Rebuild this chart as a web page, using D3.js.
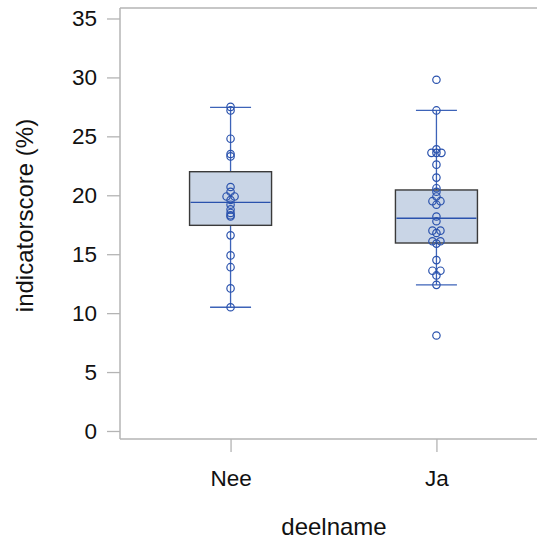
<!DOCTYPE html>
<html>
<head>
<meta charset="utf-8">
<script src="https://cdn.jsdelivr.net/npm/d3@7"></script>
<style>
  html, body { margin: 0; padding: 0; background: #fff; }
  svg { display: block; font-family: "Liberation Sans", Arial, sans-serif; }
</style>
</head>
<body>
<svg id="chart" width="537" height="539"></svg>
<script>
// ---- data ----
const categories = ["Nee", "Ja"];
const neeValues = [27.5, 27.2, 24.8, 23.5, 23.3, 20.7, 20.3, 19.9, 19.9, 19.6, 19.2, 18.8, 18.5, 18.3, 18.2, 16.6, 14.9, 13.9, 12.1, 10.5];
const jaValues = [29.8, 27.2, 23.9, 23.6, 23.6, 23.6, 22.6, 21.5, 20.6, 20.3, 19.9, 19.5, 19.5, 19.2, 18.2, 17.8, 17.0, 17.0, 16.8, 16.1, 16.1, 15.9, 14.5, 13.6, 13.6, 13.2, 12.4, 8.1];
// box statistics: [whiskerLow, q1, median, q3, whiskerHigh]
const neeBox = [10.5, 17.45, 19.4, 22.0, 27.45];
const jaBox = [12.4, 15.95, 18.05, 20.45, 27.2];
const yTicks = [0, 5, 10, 15, 20, 25, 30, 35];
const xTitle = "deelname";
const yTitle = "indicatorscore (%)";

const series = [
  { cat: categories[0], values: neeValues, box: neeBox },
  { cat: categories[1], values: jaValues, box: jaBox }
];

// ---- layout ----
const svg = d3.select("#chart");
const mLeft = 120, mRight = 547, mTop = 8, mBottom = 439;
const tickFont = 22.5, titleFont = 24;

const x = d3.scalePoint().domain(categories).range([mLeft, mRight]).padding(0.537);
const y = d3.scaleLinear().domain([-0.68, 35.89]).range([mBottom, mTop]);

const axisColor = "#b4b4b4";
const blue = "#2a52ad";
const whiskerBlue = "#3d63b8";

// frame lines
svg.append("line").attr("x1", mLeft).attr("x2", 537).attr("y1", mTop).attr("y2", mTop)
  .attr("stroke", axisColor).attr("stroke-width", 1.5);
svg.append("line").attr("x1", mLeft).attr("x2", 537).attr("y1", mBottom).attr("y2", mBottom)
  .attr("stroke", axisColor).attr("stroke-width", 1.5);

function styleText(sel, size) {
  sel.attr("fill", "#111").attr("font-size", size)
    .attr("font-family", "'Liberation Sans', Arial, sans-serif");
}

// y axis
const yAxis = d3.axisLeft(y).tickValues(yTicks).tickSize(13).tickPadding(10);
const gy = svg.append("g").attr("transform", `translate(${mLeft},0)`).call(yAxis);
gy.select(".domain").attr("stroke", axisColor).attr("stroke-width", 1.5)
  .attr("d", `M0,${mTop}V${mBottom}`);
gy.selectAll(".tick line").attr("stroke", axisColor).attr("stroke-width", 1.3);
styleText(gy.selectAll(".tick text"), tickFont);

// x axis
const xAxis = d3.axisBottom(x).tickSize(13).tickPadding(19);
const gx = svg.append("g").attr("transform", `translate(0,${mBottom})`).call(xAxis);
gx.select(".domain").remove();
gx.selectAll(".tick line").attr("stroke", axisColor).attr("stroke-width", 1.3);
styleText(gx.selectAll(".tick text"), tickFont);
gx.selectAll(".tick text").attr("dy", "0.66em");

// titles
styleText(svg.append("text").attr("x", 334).attr("y", 535).attr("text-anchor", "middle").text(xTitle), titleFont);
styleText(svg.append("text").attr("transform", `translate(33,${(mTop + mBottom) / 2 - 8}) rotate(-90)`)
  .attr("text-anchor", "middle").text(yTitle), titleFont);

// boxes
const boxW = 82, capW = 41;
series.forEach(s => {
  const cx = x(s.cat);
  const [lo, q1, med, q3, hi] = s.box;
  const g = svg.append("g");
  g.append("line").attr("x1", cx).attr("x2", cx).attr("y1", y(hi)).attr("y2", y(lo))
    .attr("stroke", whiskerBlue).attr("stroke-width", 1.3);
  [lo, hi].forEach(v => {
    g.append("line").attr("x1", cx - capW / 2).attr("x2", cx + capW / 2)
      .attr("y1", y(v)).attr("y2", y(v)).attr("stroke", whiskerBlue).attr("stroke-width", 1.3);
  });
  g.append("rect").attr("x", cx - boxW / 2).attr("width", boxW)
    .attr("y", y(q3)).attr("height", y(q1) - y(q3))
    .attr("fill", "#c9d5e6").attr("stroke", "#3a3a3a").attr("stroke-width", 1.4);
  g.append("line").attr("x1", cx - boxW / 2 + 1).attr("x2", cx + boxW / 2 - 1)
    .attr("y1", y(med)).attr("y2", y(med)).attr("stroke", blue).attr("stroke-width", 1.4);

  // points: equal values are placed side by side
  const groups = d3.groups(s.values, v => v);
  groups.forEach(([v, arr]) => {
    const n = arr.length;
    arr.forEach((_, i) => {
      const off = (i - (n - 1) / 2) * (n > 2 ? 5 : 8);
      g.append("circle").attr("cx", cx + off).attr("cy", y(v)).attr("r", 3.7)
        .attr("fill", "none").attr("stroke", blue).attr("stroke-width", 1.2);
    });
  });
});
</script>
</body>
</html>
